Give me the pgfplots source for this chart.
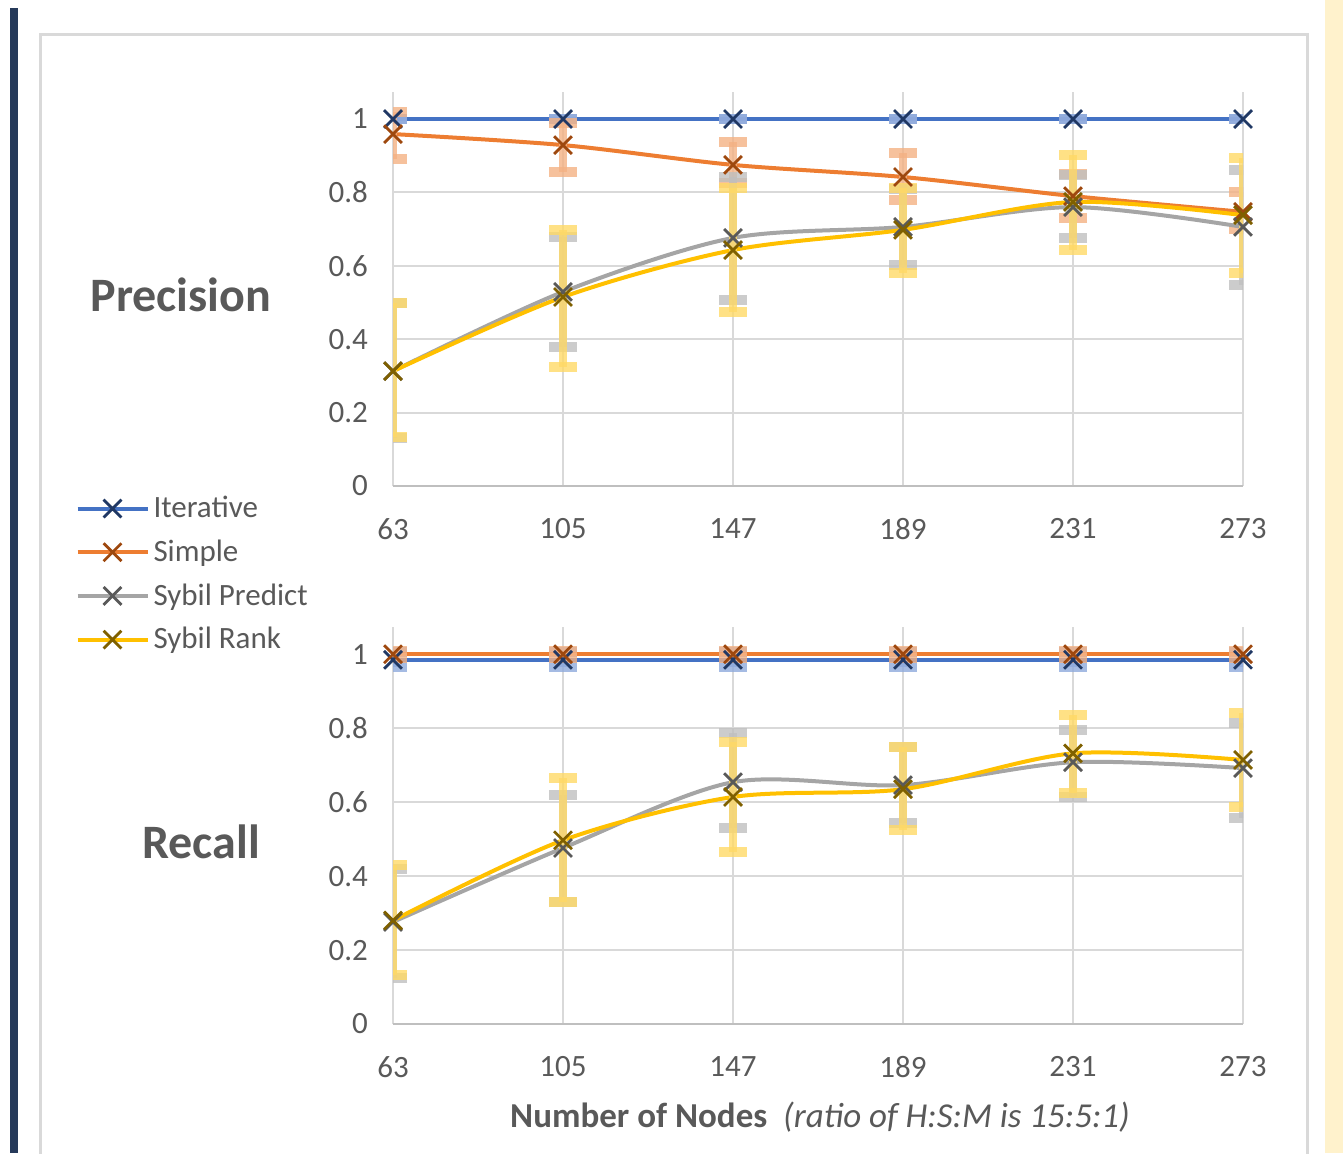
\documentclass[border=0pt]{standalone}
\usepackage{fontspec}
\setmainfont{Carlito}
\usepackage{pgfplots}
\usepackage{pgfplotstable}
\pgfplotsset{compat=1.18}

\definecolor{cblue}{HTML}{4472C4}
\definecolor{corange}{HTML}{ED7D31}
\definecolor{cgray}{HTML}{A5A5A5}
\definecolor{cyellow}{HTML}{FFC000}
\definecolor{mblue}{HTML}{203864}
\definecolor{morange}{HTML}{9E480E}
\definecolor{mgray}{HTML}{595959}
\definecolor{myellow}{HTML}{7F6000}
\definecolor{eblue}{HTML}{8FAADC}
\definecolor{eorange}{HTML}{F4B183}
\definecolor{egray}{HTML}{BFBFBF}
\definecolor{eyellow}{HTML}{FFD966}
\definecolor{txt}{HTML}{595959}
\definecolor{gridc}{HTML}{D9D9D9}
\definecolor{axc}{HTML}{BFBFBF}
\definecolor{navy}{HTML}{263A5A}
\definecolor{cream}{HTML}{FFF2CC}

% Precision data: x, value, upper end of error bar, lower end of error bar
\pgfplotstableread{
x   y     hi    lo
63  1     1     1
105 1     1     1
147 1     1     1
189 1     1     1
231 1     1     1
273 1     1     1
}\PIter
\pgfplotstableread{
x   y     hi    lo
63  0.959 1.020 0.890
105 0.929 0.990 0.856
147 0.875 0.937 0.826
189 0.842 0.907 0.780
231 0.790 0.850 0.730
273 0.747 0.800 0.700
}\PSimple
\pgfplotstableread{
x   y     hi    lo
63  0.313 0.500 0.130
105 0.529 0.678 0.379
147 0.676 0.842 0.507
189 0.706 0.810 0.602
231 0.760 0.847 0.676
273 0.706 0.861 0.548
}\PPredict
\pgfplotstableread{
x   y     hi    lo
63  0.313 0.499 0.134
105 0.515 0.698 0.324
147 0.643 0.812 0.474
189 0.698 0.812 0.580
231 0.774 0.902 0.643
273 0.738 0.894 0.580
}\PRank

% Recall data
\pgfplotstableread{
x   y     hi    lo
63  0.985 1.005 0.965
105 0.985 1.005 0.965
147 0.985 1.005 0.965
189 0.985 1.005 0.965
231 0.985 1.005 0.965
273 0.985 1.005 0.965
}\RIter
\pgfplotstableread{
x   y     hi    lo
63  1.000 1.010 0.990
105 1.000 1.010 0.990
147 1.000 1.010 0.990
189 1.000 1.010 0.990
231 1.000 1.010 0.990
273 1.000 1.010 0.990
}\RSimple
\pgfplotstableread{
x   y     hi    lo
63  0.276 0.420 0.124
105 0.476 0.619 0.330
147 0.654 0.786 0.530
189 0.646 0.750 0.543
231 0.708 0.795 0.614
273 0.692 0.813 0.557
}\RPredict
\pgfplotstableread{
x   y     hi    lo
63  0.280 0.430 0.132
105 0.497 0.665 0.330
147 0.614 0.762 0.465
189 0.635 0.749 0.524
231 0.732 0.835 0.624
273 0.714 0.841 0.586
}\RRank

\pgfplotsset{
  chartbase/.style={
    scale only axis,
    width=425pt,
    xmin=63, xmax=273, ymin=0, ymax=1.0736,
    xtick={63,105,147,189,231,273},
    xticklabels={63,105,147,189,231,273},
    ytick={0,0.2,0.4,0.6,0.8,1},
    yticklabels={0,0.2,0.4,0.6,0.8,1},
    major tick length=0pt,
    axis x line*=bottom, axis y line*=left,
    separate axis lines,
    x axis line style={draw=axc, line width=1.2pt},
    y axis line style={draw=none},
    grid=major,
    grid style={draw=gridc, line width=1pt},
    tick label style={font=\fontsize{15.5}{18}\selectfont, text=txt},
    yticklabel style={xshift=-9pt},
    xticklabel style={yshift=-12.5pt},
    clip=true,
  },
  ser/.style n args={3}{
    color=#1, line width=2pt, smooth, tension=0.5,
    mark=x, mark size=6.3pt,
    mark options={draw=#2, line width=1.4pt, solid},
    error bars/.cd,
      y dir=both, y explicit,
      error bar style={draw=#3, line width=4pt, opacity=0.8},
      error mark options={rotate=90, draw=#3, line width=5pt, mark size=7pt, opacity=0.8},
  },
}

\begin{document}
\begin{tikzpicture}
\path[use as bounding box] (0pt,0pt) rectangle (671.5pt,-576.5pt);
\fill[cream] (662.5pt,0pt) rectangle (671.5pt,-576.5pt);
\fill[navy] (5pt,-4pt) rectangle (9pt,-576.5pt);
\draw[gridc, line width=1.5pt] (20pt,-580pt) -- (20pt,-17pt) -- (653.5pt,-17pt) -- (653.5pt,-580pt);

% Precision
\begin{axis}[chartbase,
  at={(196.5pt,-243pt)}, anchor=south west, height=197pt,
  legend style={at={(-0.374,-0.015)}, anchor=north west, draw=none, fill=none,
    font=\fontsize{15.5}{18}\selectfont, text=txt, row sep=5.6pt,
    inner sep=0pt, /tikz/every even column/.append style={column sep=4pt}},
  legend cell align=left,
  legend image code/.code={\draw[mark repeat=2,mark phase=2] plot coordinates {(0pt,0pt) (17.5pt,0pt) (35pt,0pt)};},
]
\addplot[ser={cblue}{mblue}{eblue}] table[x=x,y=y,y error plus expr=\thisrow{hi}-\thisrow{y},y error minus expr=\thisrow{y}-\thisrow{lo}] {\PIter};
\addlegendentry{Iterative}
\addplot[ser={corange}{morange}{eorange}] table[x=x,y=y,y error plus expr=\thisrow{hi}-\thisrow{y},y error minus expr=\thisrow{y}-\thisrow{lo}] {\PSimple};
\addlegendentry{Simple}
\addplot[ser={cgray}{mgray}{egray}] table[x=x,y=y,y error plus expr=\thisrow{hi}-\thisrow{y},y error minus expr=\thisrow{y}-\thisrow{lo}] {\PPredict};
\addlegendentry{Sybil Predict}
\addplot[ser={cyellow}{myellow}{eyellow}] table[x=x,y=y,y error plus expr=\thisrow{hi}-\thisrow{y},y error minus expr=\thisrow{y}-\thisrow{lo}] {\PRank};
\addlegendentry{Sybil Rank}
\end{axis}

% Recall
\begin{axis}[chartbase,
  at={(196.5pt,-512pt)}, anchor=south west, height=198.5pt,
]
\addplot[ser={cblue}{mblue}{eblue}] table[x=x,y=y,y error plus expr=\thisrow{hi}-\thisrow{y},y error minus expr=\thisrow{y}-\thisrow{lo}] {\RIter};
\addplot[ser={corange}{morange}{eorange}] table[x=x,y=y,y error plus expr=\thisrow{hi}-\thisrow{y},y error minus expr=\thisrow{y}-\thisrow{lo}] {\RSimple};
\addplot[ser={cgray}{mgray}{egray}] table[x=x,y=y,y error plus expr=\thisrow{hi}-\thisrow{y},y error minus expr=\thisrow{y}-\thisrow{lo}] {\RPredict};
\addplot[ser={cyellow}{myellow}{eyellow}] table[x=x,y=y,y error plus expr=\thisrow{hi}-\thisrow{y},y error minus expr=\thisrow{y}-\thisrow{lo}] {\RRank};
\end{axis}

\node[text=txt, font=\fontsize{24}{28}\bfseries\selectfont] at (90.5pt,-147.5pt) {Precision};
\node[text=txt, font=\fontsize{24}{28}\bfseries\selectfont] at (100.5pt,-421pt) {Recall};
\node[text=txt, font=\fontsize{17.5}{21}\selectfont] at (410pt,-558.5pt) {\textbf{Number of Nodes}\ \ \textit{(ratio of H:S:M is 15:5:1)}};
\end{tikzpicture}
\end{document}
